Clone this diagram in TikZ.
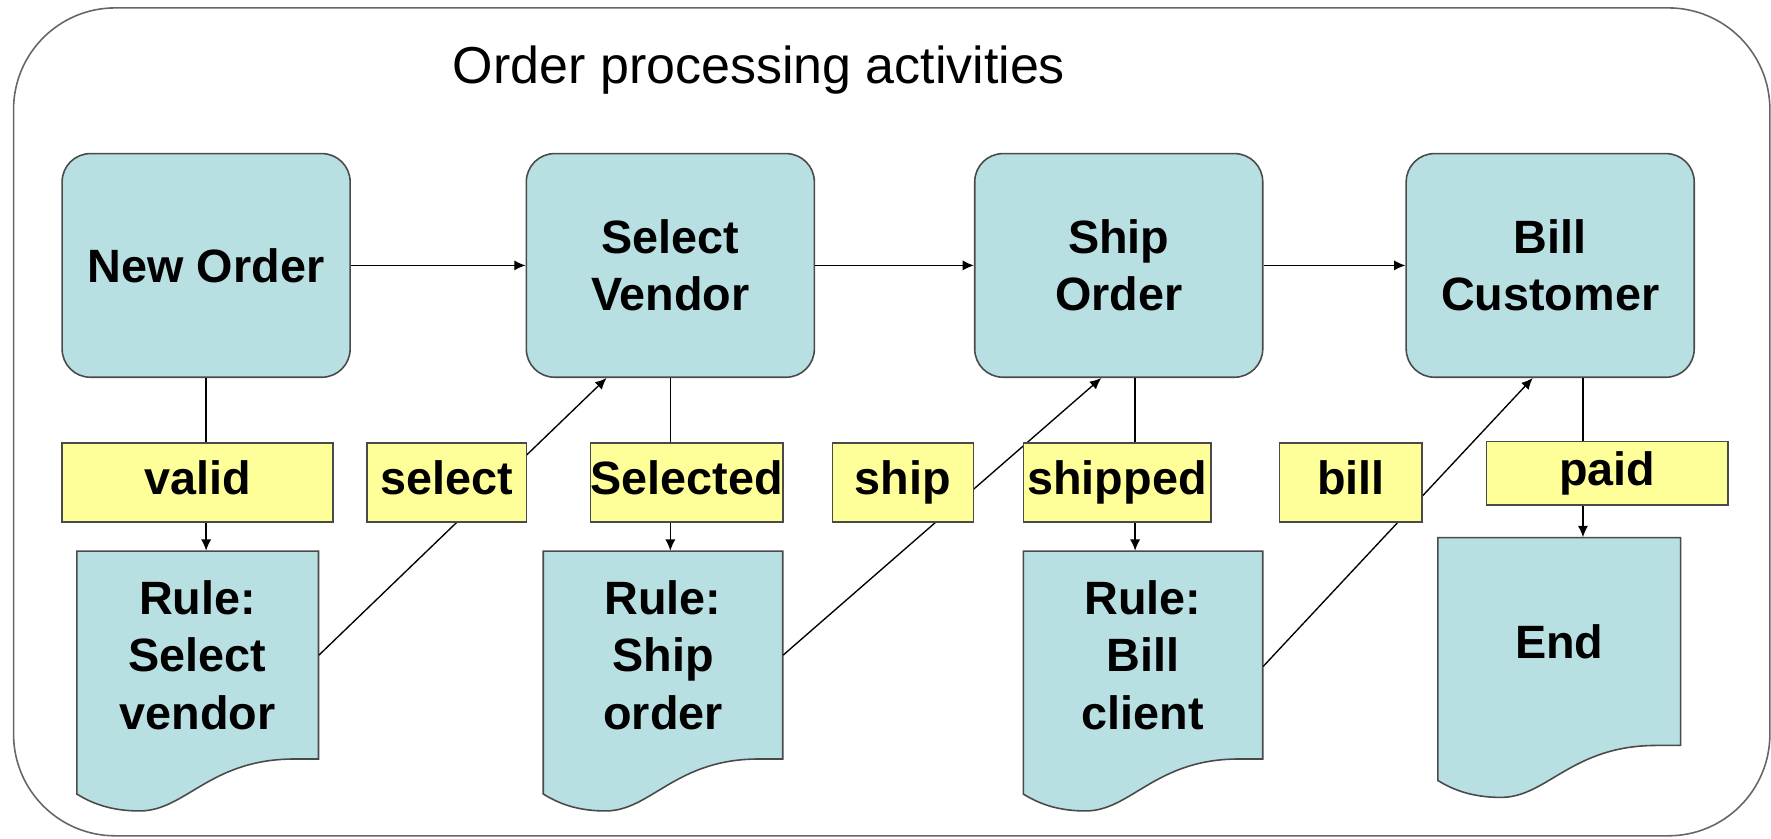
\documentclass[tikz,border=0pt]{standalone}
\usepackage{fontspec}
\setmainfont{Liberation Sans}
\usetikzlibrary{arrows.meta}
\definecolor{boxfill}{HTML}{B8DFE2}
\definecolor{lblfill}{HTML}{FFFF99}
\definecolor{edgegray}{HTML}{4A4A4A}
\newcommand\ruledoc[6]{%
  \filldraw[docshape] (#1,#3) -- (#2,#3) -- (#2,#5) -- ({#2-0.1*(#2-#1)},#5)
    .. controls ({#1+0.55*(#2-#1)},#5) and ({#1+0.45*(#2-#1)},#6) .. ({#1+0.26*(#2-#1)},#6)
    .. controls ({#1+0.14*(#2-#1)},#6) and ({#1+0.06*(#2-#1)},{#4+8}) .. (#1,#4) -- cycle;}
\begin{document}
\begin{tikzpicture}[x=0.5pt,y=-0.5pt,
  bigtext/.style={font=\bfseries\fontsize{20.7}{25.5}\selectfont},
  topbox/.style={draw=edgegray, line width=0.7pt, fill=boxfill, rounded corners=12.5pt,
    minimum width=127.5pt, minimum height=99pt, align=center, inner sep=0pt, bigtext},
  docshape/.style={draw=edgegray, line width=0.7pt, fill=boxfill},
  doctext/.style={align=center, inner sep=0pt, minimum height=92pt, bigtext},
  lbl/.style={draw=edgegray, line width=0.7pt, fill=lblfill, minimum height=35pt,
    inner sep=0pt, text height=1.2em, text depth=0.1em, bigtext},
  conn/.style={line width=0.6pt, -{Latex[length=5pt,width=4.5pt]}},
  frame/.style={draw=gray!80!black, line width=0.7pt, rounded corners=45pt},
  titletext/.style={font=\fontsize{23}{27}\selectfont}]
\useasboundingbox (0,0) rectangle (1568,742);
\draw[frame] (12,7) rectangle (1567,740);
\node[titletext] (title) at (672,62) {Order processing activities};
% activity boxes
\node[topbox] (no) at (182.5,235) {New Order};
\node[topbox] (sv) at (593.5,235) {Select\\Vendor};
\node[topbox] (so) at (990.5,235) {Ship\\Order};
\node[topbox] (bc) at (1372.5,235) {Bill\\Customer};
% rule documents
\ruledoc{68}{282}{488}{703}{672}{718}
\node[doctext, minimum width=107pt] (r1) at (175,580) {Rule:\\Select\\vendor};
\ruledoc{481}{693}{488}{703}{672}{718}
\node[doctext, minimum width=106pt] (r2) at (587,580) {Rule:\\Ship\\order};
\ruledoc{906}{1118}{488}{703}{672}{718}
\node[doctext, minimum width=106pt] (r3) at (1012,580) {Rule:\\Bill\\client};
\ruledoc{1273}{1488}{476}{691}{660}{706}
\node[doctext, minimum width=107.5pt] (r4) at (1380.5,568) {End};
% connectors
\draw[conn] (no) -- (sv);
\draw[conn] (sv) -- (so);
\draw[conn] (so) -- (bc);
\draw[conn] (no.south) -- (no.south |- r1.north);
\draw[conn] (sv.south) -- (sv.south |- r2.north);
\draw[conn] ([xshift=7.25pt]so.south) -- ([xshift=7.25pt]so.south |- r3.north);
\draw[conn] ([xshift=14.5pt]bc.south) -- ([xshift=14.5pt]bc.south |- r4.north);
\draw[conn] (r1.east) -- ([xshift=-28.25pt]sv.south);
\draw[conn] (r2.east) -- ([xshift=-7.75pt]so.south);
\draw[conn] ([yshift=-5pt]r3.east) -- ([xshift=-7.75pt]bc.south);
% labels
\node[lbl, minimum width=120pt] (lvalid) at (175,427) {valid};
\node[lbl, minimum width=70.5pt] (lselect) at (395.5,427) {select};
\node[lbl, minimum width=85pt] (lselected) at (608,427) {Selected};
\node[lbl, minimum width=62.5pt] (lship) at (799.5,427) {ship};
\node[lbl, minimum width=83pt] (lshipped) at (989,427) {shipped};
\node[lbl, minimum width=63pt] (lbill) at (1196,427) {bill};
\node[lbl, minimum width=107pt, minimum height=28pt] (lpaid) at (1423,419) {paid};
\end{tikzpicture}
\end{document}
